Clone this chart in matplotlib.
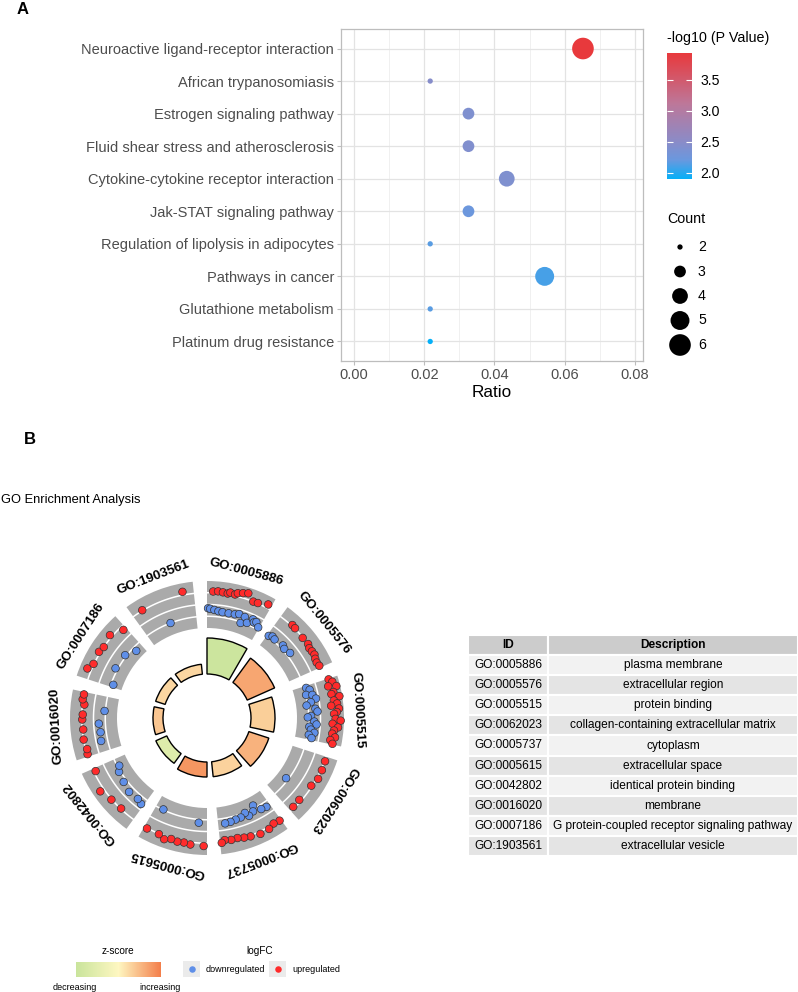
import numpy as np
import matplotlib.pyplot as plt
from matplotlib.colors import LinearSegmentedColormap, Normalize
from matplotlib.cm import ScalarMappable
from matplotlib.patches import Rectangle

plt.rcParams['font.family'] = ['Liberation Sans', 'DejaVu Sans']

W, H = 798, 992

# ---------------- panel A: KEGG bubbles ----------------
pathways = ['Neuroactive ligand-receptor interaction', 'African trypanosomiasis',
            'Estrogen signaling pathway', 'Fluid shear stress and atherosclerosis',
            'Cytokine-cytokine receptor interaction', 'Jak-STAT signaling pathway',
            'Regulation of lipolysis in adipocytes', 'Pathways in cancer',
            'Glutathione metabolism', 'Platinum drug resistance']
ratio = [0.0652, 0.0217, 0.0326, 0.0326, 0.0435, 0.0326, 0.0217, 0.0543, 0.0217, 0.0217]
count = [6, 2, 3, 3, 4, 3, 2, 5, 2, 2]
neglogp = [3.93, 2.47, 2.40, 2.42, 2.40, 2.22, 2.16, 2.10, 2.16, 1.90]
count_levels = [2, 3, 4, 5, 6]

# ---------------- panel B: GO circle ----------------
go_ids = ['GO:0005886', 'GO:0005576', 'GO:0005515', 'GO:0062023', 'GO:0005737',
          'GO:0005615', 'GO:0042802', 'GO:0016020', 'GO:0007186', 'GO:1903561']
go_desc = ['plasma membrane', 'extracellular region', 'protein binding',
           'collagen-containing extracellular matrix', 'cytoplasm', 'extracellular space',
           'identical protein binding', 'membrane',
           'G protein-coupled receptor signaling pathway', 'extracellular vesicle']
zscore = [-2.8, 2.0, 1.0, 1.7, 0.9, 2.4, -1.8, 1.2, 0.8, 0.8]
adj_p = [7.2, 6.0, 4.8, 4.2, 3.0, 3.0, 2.4, 2.0, 2.0, 2.0]   # -log10 adjusted p
logfc = [
    [-0.8, -0.9, 2.8, -1.1, 2.9, -1.3, 2.8, -1.4, 2.7, 3.0, -1.4, 2.8, 3.2, -1.3,
     3.5, -1.0, 3.8, -2.7, -1.2, 2.5, -2.2, 2.6, -1.0, -1.5, -1.2, 3.3, -2.0],
    [-2.3, -1.9, -2.1, 2.7, 2.6, -1.8, -2.1, 2.4, -1.7, 2.5, 2.2, 2.3, 2.4, 2.1, 2.0, 2.2],
    [3.0, -2.1, 3.6, -1.5, 2.5, 4.2, -2.5, -1.2, 3.3, 2.8, -0.6, 4.4, -1.8, 3.1, -2.8,
     3.7, 2.4, -1.0, 4.0, -0.6, 3.5, 2.9, -2.0, -2.7, 3.2, 4.3, -1.3, 2.6, -0.8, 3.8,
     -2.3, 3.0, -1.9, 2.7, -1.1, 3.4, -2.2, 2.5, -1.5, 3.1],
    [2.6, 2.7, 2.8, 2.3, -3.0, 2.1, 2.2],
    [2.6, -1.4, 2.4, -1.6, 2.9, -3.1, -2.0, 3.0, -1.5, -2.4, 2.7, -1.8, 2.5, -1.7,
     2.2, -1.5, 2.3, -1.4, 2.1, 2.6],
    [3.1, -1.8, 3.0, 2.8, 2.9, 2.7, 3.2, 2.6, -2.6, 2.6],
    [-1.1, -1.5, 2.4, -1.3, 2.6, -1.8, 3.4, -2.2, -2.9, 2.1],
    [2.4, 2.2, -1.1, 2.5, -1.3, 2.3, -1.1, 2.4, 2.3, -2.3, 2.1, 2.6, 2.5],
    [-3.0, 3.4, 2.6, -2.0, 2.8, 2.5, -2.2, 3.0, -3.4, 1.7],
    [2.6, -2.5, 3.2],
]


def box(x0, y0, x1, y1):
    return [x0 / W, 1 - y1 / H, (x1 - x0) / W, (y1 - y0) / H]


fig = plt.figure(figsize=(W / 100, H / 100), dpi=100)

# ---- panel A
pcmap = LinearSegmentedColormap.from_list(
    'pv', [(0, '#05b0f8'), (0.15, '#6a98de'), (0.3, '#8b8bc7'), (0.6, '#bd7799'), (1, '#e8393c')])
pnorm = Normalize(1.90, 3.93)


def dot_area(c):
    d = np.sqrt(28 + 110 * (np.asarray(c) - 2))   # diameter in px
    return (d * 0.72) ** 2

axA = fig.add_axes(box(341, 29, 643, 361))
ypos = np.arange(len(pathways))[::-1]
axA.scatter(ratio, ypos, s=dot_area(count), c=neglogp, cmap=pcmap, norm=pnorm,
            linewidths=0, zorder=3)
axA.set_xlim(-0.0037, 0.0823)
axA.set_ylim(-0.6, 9.6)
axA.set_yticks(ypos)
axA.set_yticklabels(pathways)
axA.set_xticks([0, 0.02, 0.04, 0.06, 0.08])
axA.set_xticklabels(['0.00', '0.02', '0.04', '0.06', '0.08'])
axA.set_xticks([0.01, 0.03, 0.05, 0.07], minor=True)
axA.grid(True, which='major', color='#e3e3e3', lw=0.9)
axA.grid(True, which='minor', axis='x', color='#eeeeee', lw=0.6)
axA.set_axisbelow(True)
for s in axA.spines.values():
    s.set_color('#bdbdbd')
    s.set_linewidth(0.9)
axA.tick_params(which='major', length=3, color='#bdbdbd', labelcolor='#4d4d4d', labelsize=10.5, pad=2)
axA.tick_params(which='minor', length=0)
axA.set_xlabel('Ratio', fontsize=12.3, labelpad=2)

cax = fig.add_axes(box(667, 53, 692, 179))
cb = fig.colorbar(ScalarMappable(norm=pnorm, cmap=pcmap), cax=cax, ticks=[2.0, 2.5, 3.0, 3.5])
cb.outline.set_visible(False)
cax.set_yticklabels(['2.0', '2.5', '3.0', '3.5'])
cax.tick_params(axis='y', left=True, right=True, labelleft=False, labelright=True,
                direction='in', color='white', length=4, width=0.8, labelsize=10.2, pad=6)
fig.text(667 / W, 1 - 38 / H, '-log10 (P Value)', fontsize=10.3, va='center', ha='left')

fig.text(667 / W, 1 - 219 / H, 'Count', fontsize=10.3, va='center', ha='left')
axC = fig.add_axes(box(668, 235, 692, 357))
axC.scatter(np.zeros(len(count_levels)), count_levels, s=dot_area(count_levels), c='black', linewidths=0)
for c in count_levels:
    axC.text(1.5, c, str(c), fontsize=10.2, va='center', ha='left')
axC.set_xlim(-1, 1)
axC.set_ylim(6.49, 1.51)
axC.axis('off')

fig.text(23 / W, 1 - 9 / H, 'A', fontsize=12, fontweight='bold', ha='center', va='center')

# ---- panel B
fig.text(30 / W, 1 - 440 / H, 'B', fontsize=12, fontweight='bold', ha='center', va='center')
fig.text(1 / W, 1 - 500 / H, 'GO Enrichment Analysis', fontsize=9.3, ha='left', va='center')

zcmap = LinearSegmentedColormap.from_list('zs', ['#c9e49c', '#fef7c1', '#f37e4a'])
znorm = Normalize(-3, 3)

axP = fig.add_axes(box(37, 548, 377, 888), projection='polar')
axP.set_theta_zero_location('N')
axP.set_theta_direction(-1)
axP.set_rlim(0, 170)
axP.axis('off')

n_terms = len(go_ids)
step = 2 * np.pi / n_terms
span = np.deg2rad(30)
r_in, r0, r1 = 44, 90, 137


def lfc_r(v):
    return r0 + (np.asarray(v) + 5) / 10 * (r1 - r0)

for i in range(n_terms):
    t0 = i * step
    tc = t0 + span / 2
    axP.bar(tc, r1 - r0, width=span, bottom=r0, color='#aaaaaa', lw=0)
    arc = np.linspace(t0, t0 + span, 60)
    for lv in [-2.5, 0, 2.5]:
        axP.plot(arc, np.full(arc.size, lfc_r(lv)), color='white', lw=1.1)
    axP.bar(tc, adj_p[i] * 5, width=span, bottom=r_in, color=zcmap(znorm(zscore[i])),
            edgecolor='black', lw=1.0)
    vals = np.array(logfc[i])
    th = t0 + (np.arange(vals.size) + 0.5) / vals.size * span
    cols = np.where(vals > 0, '#ff2b2b', '#5f8fe8')
    axP.scatter(th, lfc_r(vals), s=30, c=cols, edgecolors='#333333', linewidths=0.5, zorder=4)
    axP.text(tc, 151, go_ids[i], rotation=-np.rad2deg(tc), rotation_mode='anchor',
             ha='center', va='center', fontsize=9.5, fontweight='bold')

# table
axT = fig.add_axes(box(468, 635, 798, 856))
axT.set_xlim(0, 330)
axT.set_ylim(11, 0)
axT.axis('off')
rows = [('ID', 'Description')] + list(zip(go_ids, go_desc))
for k, (gid, desc) in enumerate(rows):
    if k == 0:
        fc = '#cccccc'
    else:
        fc = '#f2f2f2' if k % 2 == 1 else '#e4e4e4'
    axT.add_patch(Rectangle((0, k), 80, 1, fc=fc, ec='white', lw=1.5))
    axT.add_patch(Rectangle((80, k), 250, 1, fc=fc, ec='white', lw=1.5))
    fw = 'bold' if k == 0 else 'normal'
    axT.text(40, k + 0.5, gid, ha='center', va='center', fontsize=8.6, fontweight=fw)
    axT.text(205, k + 0.5, desc, ha='center', va='center', fontsize=8.6, fontweight=fw)

# bottom legends
fig.text(118 / W, 1 - 951 / H, 'z-score', fontsize=7.2, ha='center', va='center')
zax = fig.add_axes(box(76, 962, 161, 977))
zcb = fig.colorbar(ScalarMappable(norm=znorm, cmap=zcmap), cax=zax, orientation='horizontal')
zcb.outline.set_visible(False)
zax.set_xticks([])
fig.text(75 / W, 1 - 987 / H, 'decreasing', fontsize=6.5, ha='center', va='center')
fig.text(160 / W, 1 - 987 / H, 'increasing', fontsize=6.5, ha='center', va='center')

fig.text(260 / W, 1 - 951 / H, 'logFC', fontsize=7.2, ha='center', va='center')
axL = fig.add_axes(box(180, 958, 380, 980))
axL.set_xlim(180, 380)
axL.set_ylim(980, 958)
axL.axis('off')
for kx, col, lab in [(183, '#5f8fe8', 'downregulated'), (269, '#ff2b2b', 'upregulated')]:
    axL.add_patch(Rectangle((kx, 961), 17, 16, fc='#ebebeb', ec='none'))
    axL.scatter([kx + 8.5], [969], s=22, c=col, linewidths=0)
    axL.text(kx + 23, 969, lab, fontsize=6.5, ha='left', va='center')

fig.savefig('out.png', dpi=100)
